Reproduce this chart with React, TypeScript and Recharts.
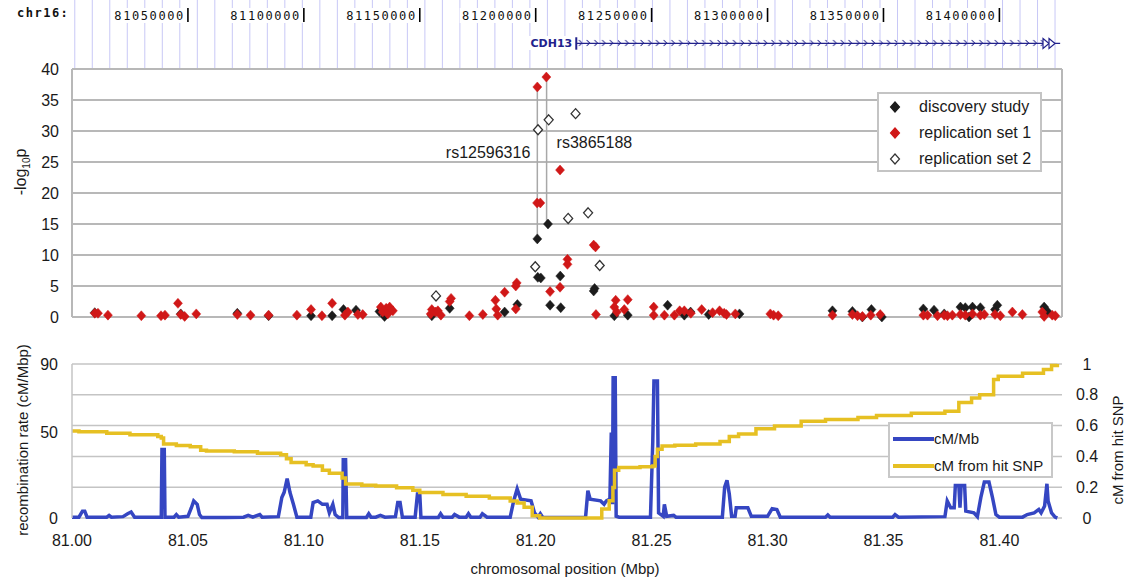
import React from "react";
import {
  ComposedChart,
  ScatterChart,
  Scatter,
  Line,
  XAxis,
  YAxis,
  CartesianGrid,
  ReferenceLine,
  ReferenceArea,
  ReferenceDot,
  Legend,
} from "recharts";

const X_DOMAIN: [number, number] = [81.0, 81.427];
const FONT = '"Liberation Sans", Arial, sans-serif';
const MONO = '"DejaVu Sans Mono", monospace';

const BLACK = "#1c1c1c";
const RED = "#d01818";
const BLUE = "#3546c2";
const YELLOW = "#e6c023";
const GRID = "#b8b8b8";
const GUIDE = "#c8c8f6";
const NAVY = "#22228c";

// ruler of the genome browser track (bp)
const rulerTicks = [81050000, 81100000, 81150000, 81200000, 81250000, 81300000, 81350000, 81400000];
const geneName = "CDH13";
const geneStart = 81.2175;
const geneEnd = 81.4262;

// -log10 p, discovery study
const discoveryPos = [
  81.0098, 81.0469, 81.0713, 81.0848, 81.1031, 81.1122, 81.1171, 81.1225, 81.1326, 81.1348, 81.1362,
  81.1552, 81.1629, 81.1866, 81.1921, 81.2007, 81.2009, 81.2022, 81.2053, 81.2062, 81.2106, 81.2108,
  81.225, 81.2254, 81.2339, 81.2397, 81.2569, 81.2641, 81.2668, 81.2746, 81.2879, 81.328, 81.3366,
  81.3409, 81.3448, 81.3493, 81.3672, 81.3718, 81.3762, 81.3832, 81.3853, 81.3869, 81.3884, 81.3918,
  81.3981, 81.3991, 81.4193, 81.4207,
];
const discoveryLogP = [
  0.7, 0.5, 0.6, 0.2, 0.2, 0.2, 1.2, 1.1, 0.9, 0.1, 1.0,
  0.2, 1.4, 0.8, 2.0, 12.6, 6.4, 6.3, 15.0, 1.9, 6.6, 1.5,
  4.2, 4.6, 0.2, 0.3, 1.9, 0.3, 0.8, 0.4, 0.5, 1.0, 0.9,
  0.0, 1.2, 0.0, 1.3, 1.1, 0.5, 1.6, 1.5, 0.0, 1.6, 1.5,
  1.2, 1.9, 1.6, 0.9,
];

// replication set 1
const rep1Pos = [
  81.0098, 81.0112, 81.0155, 81.0299, 81.0384, 81.0401, 81.0457, 81.0469, 81.0486, 81.0536, 81.0713,
  81.077, 81.0848, 81.097, 81.1031, 81.1078, 81.1122, 81.1177, 81.119, 81.1233, 81.1254, 81.1332,
  81.134, 81.1355, 81.137, 81.1362, 81.1384, 81.1547, 81.1552, 81.1568, 81.1578, 81.1591, 81.1629,
  81.1635, 81.1714, 81.1772, 81.1826, 81.183, 81.1836, 81.1866, 81.1914, 81.1918, 81.1914, 81.2007,
  81.2046, 81.2006, 81.202, 81.2062, 81.2105, 81.2105, 81.2137, 81.2137, 81.225, 81.2258, 81.226,
  81.2345, 81.2339, 81.235, 81.2397, 81.2382, 81.2509, 81.2509, 81.2555, 81.2598, 81.2621, 81.2641,
  81.2669, 81.2716, 81.2763, 81.2793, 81.2813, 81.2823, 81.2861, 81.3012, 81.3026, 81.3046, 81.328,
  81.3366, 81.3388, 81.3409, 81.3445, 81.3486, 81.3672, 81.369, 81.3733, 81.3762, 81.3776, 81.3797,
  81.3832, 81.3853, 81.3884, 81.3918, 81.3935, 81.3981, 81.4004, 81.4056, 81.4099, 81.4185, 81.4193,
  81.4228, 81.4241,
];
const rep1LogP = [
  0.6, 0.6, 0.3, 0.2, 0.2, 0.3, 2.2, 0.4, 0.1, 0.5, 0.4,
  0.3, 0.3, 0.3, 1.2, 0.2, 2.2, 0.3, 0.8, 0.4, 0.4, 1.6,
  0.8, 1.4, 1.6, 0.5, 1.0, 0.5, 1.2, 0.8, 1.0, 0.3, 2.5,
  3.0, 0.2, 0.4, 2.7, 1.3, 0.3, 4.0, 5.0, 5.5, 1.3, 37.1,
  38.7, 18.4, 18.4, 4.1, 23.7, 4.8, 9.3, 8.5, 11.6, 11.3, 0.4,
  2.7, 1.6, 0.8, 2.8, 1.2, 1.6, 0.3, 0.3, 0.3, 1.0, 1.0,
  0.6, 1.2, 0.7, 1.0, 0.6, 0.4, 0.5, 0.5, 0.3, 0.2, 0.3,
  0.4, 0.2, 0.1, 0.3, 0.4, 0.3, 0.3, 0.2, 0.3, 0.2, 0.3,
  0.4, 0.3, 0.5, 0.3, 0.4, 0.4, 0.2, 0.8, 0.4, 0.8, 0.1,
  0.3, 0.2,
];

// replication set 2
const rep2Pos = [81.157, 81.1998, 81.201, 81.2056, 81.214, 81.2172, 81.2226, 81.2276];
const rep2LogP = [3.4, 8.1, 30.2, 31.8, 15.9, 32.8, 16.8, 8.3];

// labelled SNPs
const hitSnps = [
  { name: "rs12596316", pos: 81.2007, top: 37.1, bottom: 12.6, labelY: 26.6, side: "left" },
  { name: "rs3865188", pos: 81.2047, top: 38.7, bottom: 15.0, labelY: 28.2, side: "right" },
];

// recombination rate (cM/Mb)
const recombPos = [
  81.0, 81.003, 81.0045, 81.0055, 81.0065, 81.015, 81.016, 81.017, 81.022, 81.024, 81.0255, 81.027,
  81.035, 81.0385, 81.0388, 81.0398, 81.0401, 81.044, 81.045, 81.046, 81.05, 81.0515, 81.0525, 81.054,
  81.055, 81.056, 81.066, 81.074, 81.076, 81.078, 81.081, 81.082, 81.089, 81.0905, 81.0915, 81.0928,
  81.094, 81.0955, 81.097, 81.103, 81.104, 81.106, 81.108, 81.11, 81.111, 81.1125, 81.1135, 81.115,
  81.1168, 81.117, 81.118, 81.1185, 81.127, 81.128, 81.129, 81.131, 81.133, 81.135, 81.1395, 81.1405,
  81.1415, 81.1425, 81.148, 81.149, 81.15, 81.1505, 81.158, 81.159, 81.16, 81.164, 81.165, 81.167,
  81.17, 81.171, 81.172, 81.176, 81.177, 81.179, 81.189, 81.1905, 81.192, 81.1935, 81.198, 81.1995,
  81.201, 81.202, 81.203, 81.205, 81.2215, 81.2225, 81.2235, 81.228, 81.2295, 81.2305, 81.232, 81.2326,
  81.2331, 81.2334, 81.2343, 81.2347, 81.236, 81.2495, 81.2505, 81.251, 81.2525, 81.253, 81.255, 81.2555,
  81.2565, 81.2595, 81.2605, 81.2805, 81.2815, 81.2825, 81.2835, 81.2845, 81.286, 81.2865, 81.2915, 81.293,
  81.3, 81.302, 81.304, 81.3055, 81.325, 81.326, 81.327, 81.354, 81.355, 81.3565, 81.3765, 81.3775,
  81.379, 81.3805, 81.381, 81.3825, 81.383, 81.3835, 81.385, 81.3855, 81.389, 81.3905, 81.392, 81.3935,
  81.3955, 81.397, 81.3985, 81.4, 81.41, 81.412, 81.415, 81.417, 81.418, 81.4195, 81.4205, 81.421,
  81.4225, 81.424, 81.425,
];
const recombRate = [
  0.5, 0.5, 4, 4, 0.5, 0.5, 1.5, 0.5, 0.8, 2.5, 3.5, 0.5,
  0.5, 0.5, 40, 40, 0.5, 0.5, 2, 0.5, 1, 6, 10, 8,
  2, 0.3, 0.3, 0.5, 1.5, 0.5, 2, 0.5, 0.8, 12, 15, 23,
  15, 8, 0.5, 0.5, 9, 10, 8, 8, 3, 8, 2, 0.3,
  0.3, 34, 34, 0.3, 0.3, 2.5, 0.5, 0.5, 1.5, 0.5, 0.8, 9,
  9, 0.5, 0.5, 14, 14, 0.3, 0.3, 2.5, 0.5, 0.5, 2, 0.5,
  0.5, 2.5, 0.5, 0.5, 2.5, 0.5, 0.5, 10, 17, 11, 10, 3,
  0.5, 2.5, 0.5, 0.3, 0.3, 16, 11, 10, 8, 10, 11, 50,
  8, 82, 82, 1, 0.5, 0.5, 45, 80, 80, 3, 1, 8,
  1, 1.5, 0.5, 0.5, 18, 22, 14, 1, 1, 6, 6, 1,
  1, 5.5, 5, 0.5, 0.5, 1.8, 0.5, 0.5, 2, 0.5, 0.8, 10,
  6, 6, 19, 19, 6, 19, 19, 4, 3, 0.8, 12, 21,
  21, 12, 2, 0.5, 0.5, 2, 3, 5, 3, 7, 20, 10,
  3, 0.5, 0,
];

// genetic distance from hit SNP (cM)
const cmPos = [
  81.0, 81.003, 81.015, 81.025, 81.037, 81.0385, 81.0395, 81.045, 81.051, 81.0555, 81.058, 81.07,
  81.08, 81.09, 81.0925, 81.0945, 81.101, 81.104, 81.108, 81.111, 81.1165, 81.118, 81.125, 81.131,
  81.14, 81.147, 81.15, 81.16, 81.17, 81.18, 81.189, 81.192, 81.195, 81.1985, 81.2017, 81.222,
  81.2285, 81.2317, 81.2333, 81.234, 81.2358, 81.245, 81.2505, 81.2515, 81.2525, 81.2545, 81.26, 81.269,
  81.2795, 81.2835, 81.2875, 81.295, 81.303, 81.3145, 81.325, 81.339, 81.347, 81.362, 81.3765, 81.3825,
  81.388, 81.3915, 81.3975, 81.3995, 81.41, 81.419, 81.4225, 81.425,
];
const cmFromHit = [
  0.565, 0.56, 0.55, 0.54, 0.53, 0.52, 0.48, 0.47, 0.463, 0.44, 0.435, 0.43,
  0.42, 0.41, 0.385, 0.36, 0.345, 0.338, 0.31, 0.29, 0.26, 0.22, 0.212, 0.207,
  0.196, 0.18, 0.165, 0.152, 0.142, 0.13, 0.11, 0.098, 0.07, 0.015, 0.0, 0.0,
  0.058, 0.112, 0.198, 0.31, 0.328, 0.332, 0.338, 0.4, 0.446, 0.468, 0.472, 0.48,
  0.497, 0.53, 0.545, 0.58, 0.597, 0.629, 0.64, 0.652, 0.666, 0.68, 0.693, 0.75,
  0.78, 0.8, 0.9, 0.92, 0.94, 0.965, 0.99, 1.0,
];

const xTicks = [81.0, 81.05, 81.1, 81.15, 81.2, 81.25, 81.3, 81.35, 81.4];
const logPTicks = [0, 5, 10, 15, 20, 25, 30, 35, 40];
const rateTicks = [0, 50, 90];
const cmTicks = [0, 0.2, 0.4, 0.6, 0.8, 1];

const toPoints = (xs: number[], ys: number[]) => xs.map((x, i) => ({ x, y: ys[i] }));

// faint vertical guides of the browser track
const guides: number[] = [];
for (let g = 81.0012; g < X_DOMAIN[1]; g += 0.00755) guides.push(g);

const diamond = (fill: string, stroke: string) => (props: any) => {
  const { cx, cy } = props;
  if (cx == null || cy == null) return <g />;
  return (
    <polygon
      points={`${cx},${cy - 5} ${cx + 4.5},${cy} ${cx},${cy + 5} ${cx - 4.5},${cy}`}
      fill={fill}
      stroke={stroke}
      strokeWidth={fill === "#fff" ? 1.3 : 0.5}
    />
  );
};

function RulerLabel(props: any) {
  const { viewBox, text } = props;
  const x = viewBox.x;
  return (
    <g>
      <rect x={x - 76} y={8} width={76} height={15} fill="#fff" />
      <text x={x - 3} y={20} textAnchor="end" fontFamily={MONO} fontSize={12} letterSpacing={1.6} fill="#111">
        {text}
      </text>
      <line x1={x} x2={x} y1={8} y2={22} stroke="#000" strokeWidth={1.6} />
    </g>
  );
}

const scatterLegend = [
  { name: "discovery study", fill: BLACK, stroke: BLACK },
  { name: "replication set 1", fill: RED, stroke: RED },
  { name: "replication set 2", fill: "#fff", stroke: "#333" },
];

function ScatterLegendBox() {
  return (
    <div
      style={{
        width: 165,
        height: 80,
        boxSizing: "border-box",
        border: "2px solid #c4c4c4",
        background: "#fff",
        fontFamily: FONT,
        fontSize: 16,
        color: "#1a1a1a",
      }}
    >
      {scatterLegend.map((s) => (
        <div key={s.name} style={{ height: 26, display: "flex", alignItems: "center" }}>
          <svg width={40} height={14} style={{ flex: "none" }}>
            <polygon points="16,2 20.5,7 16,12 11.5,7" fill={s.fill} stroke={s.stroke} strokeWidth={1.2} />
          </svg>
          <span>{s.name}</span>
        </div>
      ))}
    </div>
  );
}

const lineLegend = [
  { name: "cM/Mb", color: BLUE },
  { name: "cM from hit SNP", color: YELLOW },
];

function LineLegendBox() {
  return (
    <div
      style={{
        width: 165,
        height: 56,
        boxSizing: "border-box",
        border: "2px solid #c8c8c8",
        background: "#fff",
        fontFamily: FONT,
        fontSize: 15,
        color: "#1a1a1a",
        paddingTop: 1,
      }}
    >
      {lineLegend.map((s) => (
        <div key={s.name} style={{ height: 27, display: "flex", alignItems: "center" }}>
          <svg width={44} height={8} style={{ flex: "none" }}>
            <line x1={3} x2={44} y1={4} y2={4} stroke={s.color} strokeWidth={4} />
          </svg>
          <span>{s.name}</span>
        </div>
      ))}
    </div>
  );
}

const textStyle = { fontFamily: FONT, fontSize: 16, fill: "#1a1a1a" };

export default function App() {
  const discovery = toPoints(discoveryPos, discoveryLogP);
  const rep1 = toPoints(rep1Pos, rep1LogP);
  const rep2 = toPoints(rep2Pos, rep2LogP);
  const recomb = toPoints(recombPos, recombRate);
  const cm = toPoints(cmPos, cmFromHit);
  const geneY = 0.37;
  const geneSpan = toPoints([geneStart, geneEnd], [geneY, geneY]);

  return (
    <div
      style={{
        position: "absolute",
        left: 0,
        top: 0,
        width: 1127,
        height: 580,
        background: "#fff",
        overflow: "hidden",
        fontFamily: FONT,
        color: "#1a1a1a",
      }}
    >
      <svg width={0} height={0} style={{ position: "absolute" }}>
        <defs>
          <pattern id="chevrons" patternUnits="userSpaceOnUse" width={7.7} height={69}>
            <polyline points="1.5,40 4.5,43 1.5,46" fill="none" stroke={NAVY} strokeWidth={1} />
          </pattern>
        </defs>
      </svg>

      {/* genome browser track */}
      <div style={{ position: "absolute", left: 0, top: 0 }}>
        <ComposedChart data={geneSpan} width={1127} height={69} margin={{ top: 0, right: 65, bottom: 0, left: 72 }}>
          <XAxis type="number" dataKey="x" domain={X_DOMAIN} hide allowDataOverflow />
          <YAxis type="number" dataKey="y" domain={[0, 1]} hide />
          {guides.map((g) => (
            <ReferenceLine key={g} x={g} stroke={GUIDE} strokeWidth={1} />
          ))}
          {rulerTicks.map((t) => (
            <ReferenceLine
              key={t}
              x={t / 1e6}
              stroke="none"
              label={(p: any) => <RulerLabel {...p} text={String(t)} />}
            />
          ))}
          <ReferenceArea
            x1={geneStart}
            x2={geneEnd - 0.006}
            y1={geneY - 0.08}
            y2={geneY + 0.08}
            fill="url(#chevrons)"
            fillOpacity={1}
            stroke="none"
          />
          <Line dataKey="y" stroke={NAVY} strokeWidth={1.3} dot={false} isAnimationActive={false} />
          <ReferenceLine
            segment={[
              { x: geneStart, y: geneY - 0.09 },
              { x: geneStart, y: geneY + 0.09 },
            ]}
            stroke={NAVY}
            strokeWidth={2}
            label={(p: any) => (
              <g>
                <rect x={p.viewBox.x - 48} y={36} width={45} height={14} fill="#fff" />
                <text
                  x={p.viewBox.x - 4}
                  y={47}
                  textAnchor="end"
                  fontFamily='"DejaVu Sans", sans-serif'
                  fontWeight="bold"
                  fontSize={11}
                  fill={NAVY}
                >
                  {geneName}
                </text>
              </g>
            )}
          />
          <ReferenceDot
            x={geneEnd - 0.0048}
            y={geneY}
            r={0}
            shape={(p: any) => (
              <g fill="#fff" stroke={NAVY} strokeWidth={1.2}>
                <polygon points={`${p.cx - 6},${p.cy - 5} ${p.cx},${p.cy} ${p.cx - 6},${p.cy + 5}`} />
                <polygon points={`${p.cx},${p.cy - 5} ${p.cx + 6},${p.cy} ${p.cx},${p.cy + 5}`} />
              </g>
            )}
          />
        </ComposedChart>
      </div>
      <div
        style={{
          position: "absolute",
          left: 17,
          top: 6,
          fontFamily: MONO,
          fontWeight: "bold",
          fontSize: 12,
          letterSpacing: 1.5,
          background: "#fff",
          color: "#111",
        }}
      >
        chr16:
      </div>

      {/* association scatter */}
      <div style={{ position: "absolute", left: 0, top: 60 }}>
        <ScatterChart width={1127} height={266} margin={{ top: 9, right: 65, bottom: 9, left: 0 }}>
          <CartesianGrid vertical={false} stroke={GRID} strokeWidth={2} />
          <XAxis type="number" dataKey="x" domain={X_DOMAIN} hide allowDataOverflow />
          <YAxis
            type="number"
            dataKey="y"
            domain={[0, 40]}
            ticks={logPTicks}
            width={72}
            tickSize={0}
            tickMargin={13}
            tickLine={false}
            axisLine={{ stroke: GRID, strokeWidth: 2 }}
            tick={textStyle}
          />
          <ReferenceLine x={X_DOMAIN[1]} stroke={GRID} strokeWidth={2} />
          {hitSnps.map((s) => (
            <ReferenceLine
              key={s.name}
              segment={[
                { x: s.pos, y: s.top },
                { x: s.pos, y: s.bottom },
              ]}
              stroke="#a8a8a8"
              strokeWidth={1.5}
            />
          ))}
          <Scatter data={discovery} fill={BLACK} shape={diamond(BLACK, BLACK)} isAnimationActive={false} />
          <Scatter data={rep1} fill={RED} shape={diamond(RED, RED)} isAnimationActive={false} />
          <Scatter data={rep2} fill="#fff" shape={diamond("#fff", "#333")} isAnimationActive={false} />
          {hitSnps.map((s) => (
            <ReferenceDot
              key={s.name + "-label"}
              x={s.pos}
              y={s.labelY}
              r={0}
              fill="none"
              stroke="none"
              label={(p: any) => (
                <text
                  x={s.side === "left" ? p.viewBox.x - 7 : p.viewBox.x + 10}
                  y={p.viewBox.y}
                  dy="0.355em"
                  textAnchor={s.side === "left" ? "end" : "start"}
                  fontFamily={FONT}
                  fontSize={16}
                  fill="#1a1a1a"
                >
                  {s.name}
                </text>
              )}
            />
          ))}
          <Legend
            layout="vertical"
            align="center"
            verticalAlign="middle"
            content={() => <ScatterLegendBox />}
            wrapperStyle={{ left: 877, top: 32, width: 165, height: 80 }}
          />
        </ScatterChart>
      </div>
      <div
        style={{
          position: "absolute",
          left: 22,
          top: 172,
          transform: "translate(-50%, -50%) rotate(-90deg)",
          fontSize: 16,
          whiteSpace: "nowrap",
        }}
      >
        -log<sub style={{ fontSize: 10 }}>10</sub>p
      </div>

      {/* recombination panel */}
      <div style={{ position: "absolute", left: 0, top: 340 }}>
        <ComposedChart width={1127} height={240} margin={{ top: 24, right: 0, bottom: 0, left: 0 }}>
          <CartesianGrid yAxisId="cm" vertical={false} stroke="#c4c4c4" strokeWidth={1.5} />
          <XAxis
            type="number"
            dataKey="x"
            domain={X_DOMAIN}
            ticks={xTicks}
            allowDataOverflow
            height={62}
            tickSize={0}
            tickMargin={17}
            tickLine={false}
            axisLine={false}
            tickFormatter={(v: number) => v.toFixed(2)}
            tick={textStyle}
          />
          <YAxis
            yAxisId="rate"
            type="number"
            dataKey="y"
            domain={[0, 90]}
            ticks={rateTicks}
            width={72}
            tickSize={0}
            tickMargin={14}
            tickLine={false}
            axisLine={{ stroke: "#c4c4c4", strokeWidth: 1.5 }}
            tick={textStyle}
          />
          <YAxis
            yAxisId="cm"
            orientation="right"
            type="number"
            dataKey="y"
            domain={[0, 1]}
            ticks={cmTicks}
            width={65}
            tickSize={0}
            tickMargin={0}
            tickLine={false}
            axisLine={false}
            tick={(p: any) => (
              <text x={p.x + 25} y={p.y} dy="0.355em" textAnchor="middle" {...textStyle}>
                {p.payload.value === 0 || p.payload.value === 1 ? String(p.payload.value) : p.payload.value.toFixed(1)}
              </text>
            )}
          />
          <Line
            yAxisId="rate"
            data={recomb}
            dataKey="y"
            type="linear"
            stroke={BLUE}
            strokeWidth={3.5}
            dot={false}
            isAnimationActive={false}
          />
          <Line
            yAxisId="cm"
            data={cm}
            dataKey="y"
            type="stepAfter"
            stroke={YELLOW}
            strokeWidth={3.5}
            dot={false}
            isAnimationActive={false}
          />
          <Legend
            layout="vertical"
            align="center"
            verticalAlign="middle"
            content={() => <LineLegendBox />}
            wrapperStyle={{ left: 888, top: 82, width: 165, height: 56 }}
          />
        </ComposedChart>
      </div>
      <div
        style={{
          position: "absolute",
          left: 22,
          top: 440,
          transform: "translate(-50%, -50%) rotate(-90deg)",
          fontSize: 15,
          whiteSpace: "nowrap",
        }}
      >
        recombination rate (cM/Mbp)
      </div>
      <div
        style={{
          position: "absolute",
          left: 1117,
          top: 450,
          transform: "translate(-50%, -50%) rotate(-90deg)",
          fontSize: 15,
          whiteSpace: "nowrap",
        }}
      >
        cM from hit SNP
      </div>
      <div
        style={{
          position: "absolute",
          left: 565,
          top: 568,
          transform: "translate(-50%, -50%)",
          fontSize: 15,
          whiteSpace: "nowrap",
        }}
      >
        chromosomal position (Mbp)
      </div>
    </div>
  );
}
